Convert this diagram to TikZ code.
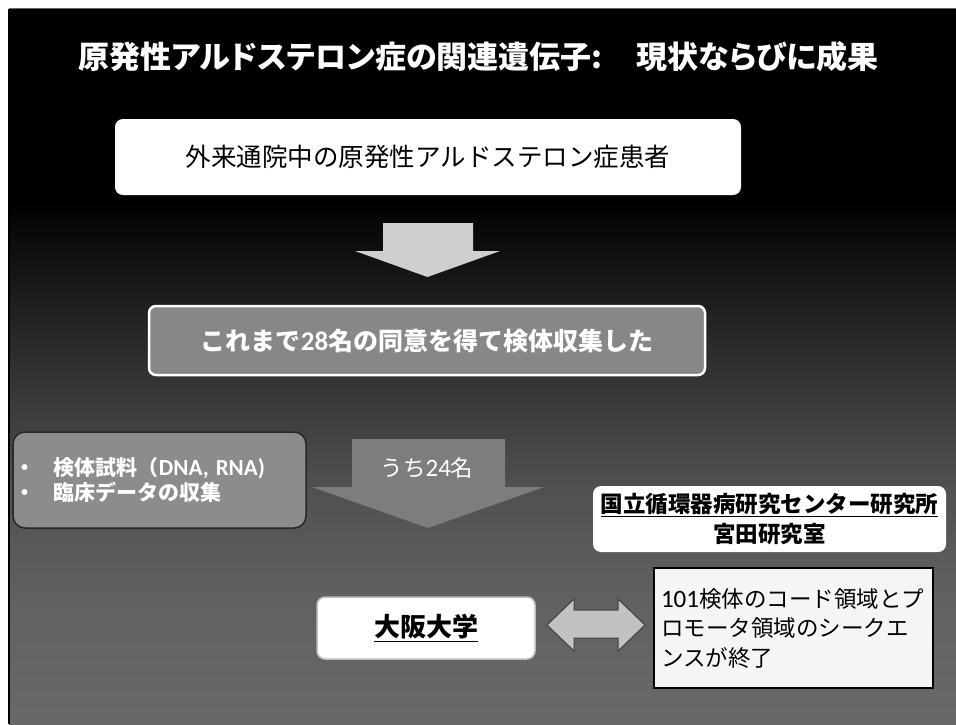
\documentclass[tikz,border=0pt]{standalone}
\usepackage{fontspec}
\setmainfont{Noto Sans CJK JP}
\newfontfamily\titlefont[RawFeature=+palt]{Noto Sans CJK JP}
\newfontfamily\latf{Carlito}
\definecolor{bgA}{gray}{0.15}
\definecolor{bgB}{gray}{0.31}
\definecolor{bgC}{gray}{0.38}
\definecolor{bgD}{gray}{0.41}
\definecolor{boxgray}{gray}{0.53}
\definecolor{leftgray}{gray}{0.55}
\definecolor{arrowgray}{gray}{0.49}
\definecolor{arrowlight}{gray}{0.81}
\definecolor{dblgray}{gray}{0.76}
\begin{document}
\begin{tikzpicture}[x=1pt,y=-1pt,
  every node/.style={inner sep=0pt, outer sep=0pt},
  whitebox/.style={fill=white, rounded corners=8pt},
  graybox/.style={fill=boxgray, draw=white, line width=2.5pt, rounded corners=7pt},
  leftbox/.style={fill=leftgray, draw=black!85, line width=1.5pt, rounded corners=12pt},
  notebox/.style={fill=black!4, draw=black, line width=1.5pt},
  blockarrow/.style={draw=none},
]
\useasboundingbox (0,0) rectangle (956,724);
% background
\fill[white] (0,0) rectangle (956,724);
\fill[black] (9,9) rectangle (956,201);
\shade[top color=black, bottom color=bgA] (9,200) rectangle (956,331);
\shade[top color=bgA, bottom color=bgB] (9,330) rectangle (956,481);
\shade[top color=bgB, bottom color=bgC] (9,480) rectangle (956,601);
\shade[top color=bgC, bottom color=bgD] (9,600) rectangle (956,724);
\draw[black, line width=2pt] (9,9) -- (9,724);
\draw[black!60, line width=1pt] (9,8.5) -- (956,8.5);

% title
\node[text=white, font=\titlefont\bfseries\fontsize{31}{36}\selectfont] (title) at (478.5,57)
  {原発性アルドステロン症の関連遺伝子:\hspace{34pt}現状ならびに成果};

% top box
\node[whitebox, minimum width=626pt, minimum height=76pt, font=\fontsize{25.5}{30}\selectfont] (patients) at (428,157)
  {外来通院中の原発性アルドステロン症患者};

% arrow 1
\fill[arrowlight, blockarrow] (383,223) -- (473,223) -- (473,251) -- (500,251) -- (427.5,277) -- (355,251) -- (383,251) -- cycle;

% box 2
\node[graybox, minimum width=556pt, minimum height=69pt, text=white, font=\bfseries\fontsize{25}{30}\selectfont] (consent) at (427,340.5)
  {これまで{\latf\bfseries\fontsize{27}{30}\selectfont 28}名の同意を得て検体収集した};

% arrow 2
\fill[arrowgray, blockarrow] (352,439) -- (505,439) -- (505,487) -- (544,487) -- (428,528) -- (312,487) -- (352,487) -- cycle;
\node[text=white, font=\fontsize{22.5}{26}\selectfont] (sub) at (427,468) {うち{\latf\fontsize{25}{26}\selectfont 24}名};

% left box
\node[leftbox, minimum width=293pt, minimum height=96pt, text width=291pt, align=left, inner xsep=1pt,
  text=white, font=\bfseries\fontsize{21}{25}\selectfont] (samples) at (159.5,480)
  {\makebox[40pt][l]{・}検体試料（{\latf\bfseries\fontsize{23}{25}\selectfont DNA, RNA)}\\
   \makebox[40pt][l]{・}臨床データの収集};

% right box
\node[whitebox, minimum width=353pt, minimum height=66pt, align=center,
  font=\bfseries\fontsize{22.5}{30}\selectfont] (ncvc) at (769.5,519)
  {\underline{国立循環器病研究センター研究所}\\宮田研究室};

% Osaka box
\node[whitebox, draw=black!25, line width=1.5pt, minimum width=218pt, minimum height=62pt,
  font=\bfseries\fontsize{26}{30}\selectfont] (osaka) at (426,628) {\underline{大阪大学}};

% result box
\node[notebox, minimum width=279pt, minimum height=120pt, text width=265pt, align=left,
  font=\fontsize{22.5}{29.5}\selectfont] (result) at (793.5,628)
  {{\latf\fontsize{25}{29.5}\selectfont 101}検体のコード領域とプ\\ロモータ領域のシークエ\\ンスが終了};

% double arrow
\filldraw[fill=dblgray, draw=black!75, line width=1pt]
  (547,625) -- (574,599) -- (574,610) -- (618,610) -- (618,599) -- (645,625)
  -- (618,651) -- (618,638) -- (574,638) -- (574,651) -- cycle;
\end{tikzpicture}
\end{document}
